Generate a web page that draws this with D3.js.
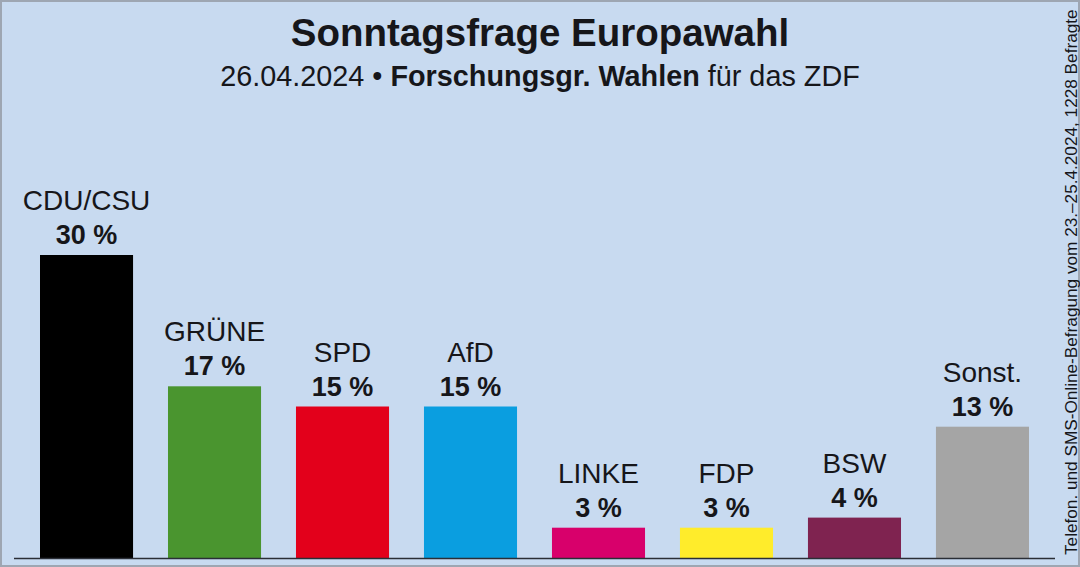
<!DOCTYPE html>
<html><head><meta charset="utf-8">
<script src="https://cdn.jsdelivr.net/npm/d3@7"></script>
<style>html,body{margin:0;padding:0;background:#c8daf0;}svg{display:block;}</style>
</head><body>
<svg id="chart" width="1080" height="567"></svg>
<script>
const parties = ["CDU/CSU","GRÜNE","SPD","AfD","LINKE","FDP","BSW","Sonst."];
const values = [30,17,15,15,3,3,4,13];
const colors = ["#000000","#4a952f","#e3001b","#0a9ee0","#d8006b","#ffec2b","#7f2350","#a5a5a5"];
const title = "Sonntagsfrage Europawahl";
const subtitleParts = [["26.04.2024 • ", "normal"], ["Forschungsgr. Wahlen", "bold"], [" für das ZDF", "normal"]];
const sideNote = "Telefon. und SMS-Online-Befragung vom 23.–25.4.2024, 1228 Befragte";

const svg = d3.select("#chart");
const W = 1080, H = 567;
const font = "'Liberation Sans', Arial, Helvetica, sans-serif";
const ink = "#16161a";

svg.append("rect").attr("x",0).attr("y",0).attr("width",W).attr("height",H).attr("fill","#c8daf0");
svg.append("rect").attr("x",1).attr("y",1).attr("width",W-2).attr("height",H-2)
  .attr("fill","none").attr("stroke","#9ea6b2").attr("stroke-width",2);

const x = d3.scaleBand().domain(parties).range([40, 1029]).paddingInner(0.273).paddingOuter(0);
const y = d3.scaleLinear().domain([0, 30]).range([558, 255]);

svg.append("text").attr("x",540).attr("y",46).attr("text-anchor","middle")
  .attr("font-family",font).attr("font-weight","bold").attr("font-size",38.5).attr("fill",ink).text(title);

const sub = svg.append("text").attr("x",540).attr("y",86).attr("text-anchor","middle")
  .attr("font-family",font).attr("font-size",28.8).attr("fill",ink);
subtitleParts.forEach(([t,w]) => sub.append("tspan").attr("font-weight",w).text(t));

const g = svg.append("g");
g.selectAll("rect.bar").data(parties).join("rect").attr("class","bar")
  .attr("x", d => x(d)).attr("width", x.bandwidth())
  .attr("y", (d,i) => y(values[i])).attr("height", (d,i) => y(0) - y(values[i]))
  .attr("fill", (d,i) => colors[i]);

g.selectAll("text.name").data(parties).join("text").attr("class","name")
  .attr("x", d => x(d) + x.bandwidth()/2).attr("y", (d,i) => y(values[i]) - 45)
  .attr("text-anchor","middle").attr("font-family",font).attr("font-size",28).attr("fill",ink)
  .text(d => d);

g.selectAll("text.val").data(parties).join("text").attr("class","val")
  .attr("x", d => x(d) + x.bandwidth()/2).attr("y", (d,i) => y(values[i]) - 11)
  .attr("text-anchor","middle").attr("font-family",font).attr("font-weight","bold").attr("font-size",27).attr("fill",ink)
  .text((d,i) => values[i] + " %");

svg.append("line").attr("x1",14).attr("x2",1055).attr("y1",y(0)+0.5).attr("y2",y(0)+0.5)
  .attr("stroke","#2a2e36").attr("stroke-width",1.5);

svg.append("text").attr("transform","translate(1077,555) rotate(-90)")
  .attr("font-family",font).attr("font-size",17.2).attr("fill",ink).text(sideNote);
</script>
</body></html>
